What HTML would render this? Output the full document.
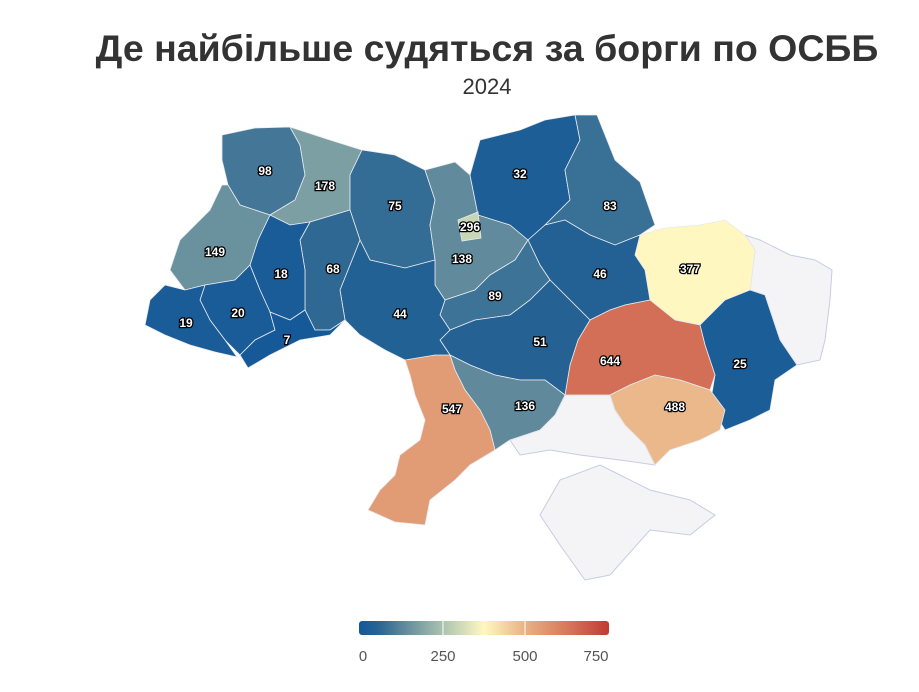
<!DOCTYPE html>
<html><head><meta charset="utf-8"><style>
body{margin:0;background:#fff;font-family:"Liberation Sans",sans-serif}
svg{display:block}
.lbl{font:bold 12px "Liberation Sans",sans-serif;fill:#fff;stroke:#000;stroke-width:2.6px;paint-order:stroke;text-anchor:middle;dominant-baseline:middle}
</style></head><body>
<svg id="c" width="919" height="692">
<text x="487" y="61" text-anchor="middle" font-size="37.5" font-weight="bold" fill="#333">Де найбільше судяться за борги по ОСББ</text>
<text x="487" y="94" text-anchor="middle" font-size="22" fill="#333">2024</text>
<g id="map"></g>
<g id="legend"></g>
</svg>
<script>
const regions=["volyn","rivne","zhytomyr","kyiv-oblast","chernihiv","sumy","kharkiv","donetsk","poltava","dnipro","zaporizhzhia","cherkasy","kirovohrad","mykolaiv","odesa","vinnytsia","khmelnytskyi","ternopil","lviv","ivano-frankivsk","zakarpattia","chernivtsi","kyiv-city"];
const values=[98,178,75,138,32,83,377,25,46,644,488,89,51,136,547,44,68,18,149,20,19,7,296];
const legendTicks=[0,250,500,750];
const shapes={
volyn:[[222,135],[255,128],[290,127],[300,145],[305,175],[295,200],[270,215],[240,205],[228,185],[222,160]],
rivne:[[290,127],[330,140],[362,150],[350,175],[350,210],[310,222],[290,225],[270,215],[295,200],[305,175],[300,145]],
zhytomyr:[[362,150],[395,155],[425,170],[435,200],[430,225],[435,260],[405,268],[370,260],[360,240],[350,210],[350,175]],
"kyiv-oblast":[[425,170],[455,162],[470,175],[478,215],[510,225],[528,240],[515,260],[490,275],[475,290],[445,300],[435,285],[435,260],[430,225],[435,200]],
chernihiv:[[470,175],[480,140],[520,130],[545,120],[575,115],[580,140],[565,170],[570,200],[545,225],[528,240],[510,225],[478,215]],
sumy:[[575,115],[597,115],[605,135],[615,160],[640,182],[648,205],[655,225],[640,235],[615,245],[590,235],[565,220],[545,225],[570,200],[565,170],[580,140]],
kharkiv:[[640,235],[665,228],[700,225],[725,220],[745,235],[755,250],[750,290],[725,300],[700,325],[675,320],[650,300],[645,270],[635,255]],
donetsk:[[750,290],[765,295],[780,340],[797,365],[775,380],[770,410],[750,420],[725,430],[710,405],[715,375],[705,345],[700,325],[725,300]],
poltava:[[528,240],[545,225],[565,220],[590,235],[615,245],[640,235],[635,255],[645,270],[650,300],[625,305],[610,310],[590,320],[570,300],[550,280],[540,265]],
dnipro:[[590,320],[610,310],[625,305],[650,300],[675,320],[700,325],[705,345],[715,375],[710,390],[680,380],[655,375],[630,385],[610,395],[590,395],[565,395],[570,365],[578,340]],
zaporizhzhia:[[610,395],[630,385],[655,375],[680,380],[710,390],[725,410],[720,430],[700,440],[670,450],[655,465],[645,445],[625,425],[615,410]],
cherkasy:[[515,260],[528,240],[540,265],[550,280],[530,300],[510,315],[475,320],[450,330],[440,315],[445,300],[475,290],[490,275]],
kirovohrad:[[550,280],[570,300],[590,320],[578,340],[570,365],[565,395],[545,380],[520,380],[495,375],[470,365],[450,355],[440,340],[450,330],[475,320],[510,315],[530,300]],
mykolaiv:[[450,355],[470,365],[495,375],[520,380],[545,380],[565,395],[555,415],[540,430],[510,440],[495,450],[490,430],[480,410],[465,390],[455,370]],
odesa:[[405,360],[435,355],[450,355],[455,370],[465,390],[480,410],[490,430],[495,450],[470,465],[455,480],[430,500],[425,525],[395,522],[368,510],[380,490],[395,475],[400,455],[420,440],[425,420],[415,395],[410,375]],
vinnytsia:[[360,240],[370,260],[405,268],[435,260],[435,285],[445,300],[440,315],[450,330],[440,340],[450,355],[435,355],[405,360],[385,350],[360,335],[345,320],[340,290],[350,265]],
khmelnytskyi:[[310,222],[350,210],[360,240],[350,265],[340,290],[345,320],[330,330],[315,330],[305,310],[305,270],[300,240]],
ternopil:[[270,215],[290,225],[310,222],[300,240],[305,270],[305,310],[290,320],[270,312],[260,290],[250,265],[258,240]],
lviv:[[222,185],[228,185],[240,205],[270,215],[258,240],[250,265],[235,280],[205,285],[185,290],[170,270],[180,240],[210,210]],
"ivano-frankivsk":[[205,285],[235,280],[250,265],[260,290],[270,312],[275,330],[255,340],[240,355],[225,340],[210,320],[200,300]],
zakarpattia:[[150,300],[165,285],[185,290],[205,285],[200,300],[210,320],[225,340],[237,357],[215,352],[190,345],[165,335],[145,325]],
chernivtsi:[[270,312],[290,320],[305,310],[315,330],[330,330],[345,320],[330,335],[300,340],[270,355],[248,368],[240,355],[255,340],[275,330]],
"kyiv-city":[[458,220],[478,212],[481,238],[462,241]]
};
const labelPos={volyn:[265,172],rivne:[325,187],zhytomyr:[395,207],"kyiv-oblast":[462,260],chernihiv:[520,175],sumy:[610,207],kharkiv:[690,270],donetsk:[740,365],poltava:[600,275],dnipro:[610,362],zaporizhzhia:[675,408],cherkasy:[495,297],kirovohrad:[540,343],mykolaiv:[525,407],odesa:[452,410],vinnytsia:[400,315],khmelnytskyi:[333,270],ternopil:[281,275],lviv:[215,253],"ivano-frankivsk":[238,314],zakarpattia:[186,324],chernivtsi:[287,341],"kyiv-city":[470,228]};
const grayShapes={luhansk:[[745,235],[760,240],[790,255],[815,260],[832,270],[830,300],[825,340],[820,360],[797,365],[780,340],[765,295],[750,290],[755,250]],
kherson:[[565,395],[590,395],[610,395],[615,410],[625,425],[645,445],[655,465],[620,460],[580,455],[550,450],[520,455],[510,440],[540,430],[555,415]],
crimea:[[540,515],[560,480],[600,465],[620,475],[650,490],[690,500],[715,515],[690,535],[650,530],[610,575],[585,580],[560,545]]};
const stops=[[0,[18,88,154]],[60,[40,100,146]],[150,[106,145,158]],[250,[170,194,176]],[375,[255,248,192]],[500,[232,177,132]],[625,[214,120,92]],[750,[192,58,53]]];
function color(v){for(let i=1;i<stops.length;i++){if(v<=stops[i][0]||i==stops.length-1){const a=stops[i-1],b=stops[i];let t=Math.max(0,Math.min(1,(v-a[0])/(b[0]-a[0])));return`rgb(${a[1].map((c,k)=>Math.round(c+(b[1][k]-c)*t)).join(',')})`;}}}
const NS="http://www.w3.org/2000/svg",map=document.getElementById('map');
for(const k in grayShapes){const p=document.createElementNS(NS,'polygon');p.setAttribute('points',grayShapes[k].map(q=>q.join(',')).join(' '));p.setAttribute('fill','#f4f4f6');p.setAttribute('stroke','#c8cce0');


map.appendChild(p);}
regions.forEach((r,i)=>{const p=document.createElementNS(NS,'polygon');p.setAttribute('points',shapes[r].map(q=>q.join(',')).join(' '));p.setAttribute('fill',color(values[i]));p.setAttribute('stroke','#e8eaf0');p.setAttribute('stroke-width','0.8');


map.appendChild(p);});
regions.forEach((r,i)=>{const t=document.createElementNS(NS,'text');t.setAttribute('class','lbl');t.setAttribute('x',labelPos[r][0]);t.setAttribute('y',labelPos[r][1]);t.textContent=values[i];


map.appendChild(t);});
const lg=document.getElementById('legend');
const lx=v=>361+v*246/750;
let defs=document.createElementNS(NS,'defs');let g=document.createElementNS(NS,'linearGradient');g.id='lgrad';
for(let v=0;v<=750;v+=25){const s=document.createElementNS(NS,'stop');s.setAttribute('offset',(v/750*100)+'%');s.setAttribute('stop-color',color(v));g.appendChild(s);}
defs.appendChild(g);lg.appendChild(defs);
const bar=document.createElementNS(NS,'rect');bar.setAttribute('x',359);bar.setAttribute('y',621);bar.setAttribute('width',250);bar.setAttribute('height',14);bar.setAttribute('rx',3);bar.setAttribute('fill','url(#lgrad)');


lg.appendChild(bar);
legendTicks.forEach((v,i)=>{const x=lx(v);
if(i>0&&i<legendTicks.length-1){const l=document.createElementNS(NS,'line');l.setAttribute('x1',x);l.setAttribute('x2',x);l.setAttribute('y1',621);l.setAttribute('y2',635);l.setAttribute('stroke','#fff');


lg.appendChild(l);}
const t=document.createElementNS(NS,'text');t.setAttribute('x',i==0?x+2:(i==legendTicks.length-1?x-11:x));t.setAttribute('y',661);t.setAttribute('text-anchor','middle');t.setAttribute('font-size','15');t.setAttribute('fill','#555');t.textContent=v;


lg.appendChild(t);});
</script>
</body></html>
